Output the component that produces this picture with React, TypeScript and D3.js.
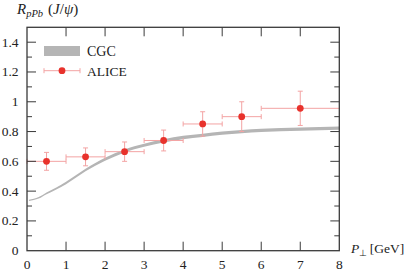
import React from "react";
import * as d3 from "d3";

const W = 409;
const H = 272;

// CGC band (central curve and half-width)
const cgcX = [0.05, 0.3, 0.5, 0.75, 1.0, 1.25, 1.5, 1.75, 2.0, 2.5, 3.0, 3.5, 4.0, 4.5, 5.0, 5.5, 6.0, 7.0, 8.0];
const cgcY = [0.338, 0.355, 0.385, 0.418, 0.455, 0.498, 0.542, 0.58, 0.614, 0.67, 0.708, 0.737, 0.76, 0.775, 0.789, 0.8, 0.808, 0.817, 0.823];
const cgcHalf = [0.004, 0.005, 0.006, 0.007, 0.008, 0.008, 0.009, 0.009, 0.01, 0.01, 0.01, 0.011, 0.011, 0.011, 0.011, 0.011, 0.011, 0.011, 0.011];

// ALICE data
const aliceX = [0.5, 1.5, 2.5, 3.5, 4.5, 5.5, 7.0];
const aliceXErr = [0.5, 0.5, 0.5, 0.5, 0.5, 0.5, 1.0];
const aliceY = [0.6, 0.63, 0.665, 0.74, 0.851, 0.9, 0.956];
const aliceYErr = [0.06, 0.06, 0.065, 0.07, 0.082, 0.1, 0.115];

const xTicks = [0, 1, 2, 3, 4, 5, 6, 7, 8];
const yTicks = [0, 0.2, 0.4, 0.6, 0.8, 1, 1.2, 1.4];
const yMinor = [0.1, 0.3, 0.5, 0.7, 0.9, 1.1, 1.3];

const FONT = "Liberation Serif";
const FRAME = "#3a3a3a";
const RED = "#e8322c";
const ERR = "#f3a3a3";
const BAND = "#b5b5b5";
const FS = 13.5;

export default function App() {
  const left = 27, right = 339.3, top = 27.3, bottom = 250.7;
  const x = d3.scaleLinear().domain([0, 8]).range([left, right]);
  const y = d3.scaleLinear().domain([0, 1.5]).range([bottom, top]);

  const band = cgcX.map((v, i) => ({ x: v, lo: cgcY[i] - cgcHalf[i], hi: cgcY[i] + cgcHalf[i] }));
  const area = d3
    .area<any>()
    .x((d) => x(d.x))
    .y0((d) => y(d.lo))
    .y1((d) => y(d.hi))
    .curve(d3.curveMonotoneX);

  const pts = aliceX.map((v, i) => ({ x: v, xe: aliceXErr[i], y: aliceY[i], ye: aliceYErr[i] }));
  const cap = 2.5;
  const major = 9;
  const minor = 5;

  return (
    <svg width={W} height={H} style={{ position: "absolute", left: 0, top: 0, background: "#fff" }}>
      {/* CGC band */}
      <path d={area(band) || ""} fill={BAND} />

      {/* ALICE error bars */}
      {pts.map((p, i) => (
        <g key={i} stroke={ERR} strokeWidth={1}>
          <line x1={x(p.x - p.xe)} x2={Math.min(x(p.x + p.xe), right)} y1={y(p.y)} y2={y(p.y)} />
          <line x1={x(p.x)} x2={x(p.x)} y1={y(p.y - p.ye)} y2={y(p.y + p.ye)} />
          <line x1={x(p.x) - cap} x2={x(p.x) + cap} y1={y(p.y - p.ye)} y2={y(p.y - p.ye)} />
          <line x1={x(p.x) - cap} x2={x(p.x) + cap} y1={y(p.y + p.ye)} y2={y(p.y + p.ye)} />
          <line x1={x(p.x - p.xe)} x2={x(p.x - p.xe)} y1={y(p.y) - cap} y2={y(p.y) + cap} />
          {x(p.x + p.xe) < right - 0.5 && (
            <line x1={x(p.x + p.xe)} x2={x(p.x + p.xe)} y1={y(p.y) - cap} y2={y(p.y) + cap} />
          )}
        </g>
      ))}
      {pts.map((p, i) => (
        <circle key={"c" + i} cx={x(p.x)} cy={y(p.y)} r={3.4} fill={RED} />
      ))}

      {/* Frame */}
      <rect x={left} y={top} width={right - left} height={bottom - top} fill="none" stroke={FRAME} strokeWidth={1.3} />

      {/* X ticks (bottom & top) */}
      {xTicks.slice(1, -1).map((t) => (
        <g key={"xt" + t} stroke={FRAME} strokeWidth={1}>
          <line x1={x(t)} x2={x(t)} y1={bottom} y2={bottom - major} />
          <line x1={x(t)} x2={x(t)} y1={top} y2={top + major} />
        </g>
      ))}
      {/* Y ticks (left & right) */}
      {yTicks.slice(1).map((t) => (
        <g key={"yt" + t} stroke={FRAME} strokeWidth={1}>
          <line x1={left} x2={left + major} y1={y(t)} y2={y(t)} />
          <line x1={right} x2={right - major} y1={y(t)} y2={y(t)} />
        </g>
      ))}
      {yMinor.map((t) => (
        <g key={"ym" + t} stroke={FRAME} strokeWidth={1}>
          <line x1={left} x2={left + minor} y1={y(t)} y2={y(t)} />
          <line x1={right} x2={right - minor} y1={y(t)} y2={y(t)} />
        </g>
      ))}

      {/* Tick labels */}
      {xTicks.map((t) => (
        <text key={"xl" + t} x={x(t)} y={268.5} textAnchor="middle" fontFamily={FONT} fontSize={FS} fill="#222">
          {t}
        </text>
      ))}
      {yTicks.map((t) => (
        <text key={"yl" + t} x={18.5} y={y(t) + 4.5} textAnchor="end" fontFamily={FONT} fontSize={FS} fill="#222">
          {d3.format("~g")(t)}
        </text>
      ))}

      {/* Axis titles */}
      <text x={17} y={13.5} fontFamily={FONT} fontSize={15} fill="#222">
        <tspan fontStyle="italic">R</tspan>
        <tspan fontStyle="italic" fontSize={10.5} dy={3}>pPb</tspan>
        <tspan dy={-3} dx={5}>(</tspan>
        <tspan fontStyle="italic">J</tspan>
        <tspan>/</tspan>
        <tspan fontStyle="italic">ψ</tspan>
        <tspan>)</tspan>
      </text>
      <text x={351} y={253} fontFamily={FONT} fontSize={13.5} fill="#222">
        <tspan fontStyle="italic">P</tspan>
        <tspan fontSize={9} dy={3}>⊥</tspan>
        <tspan dy={-3} dx={2.5}>[GeV]</tspan>
      </text>

      {/* Legend */}
      <rect x={44} y={46} width={36} height={10} fill={BAND} />
      <text x={87} y={55.5} fontFamily={FONT} fontSize={14} fill="#222">CGC</text>
      <g stroke={ERR} strokeWidth={1}>
        <line x1={44} x2={80} y1={70.7} y2={70.7} />
        <line x1={44} x2={44} y1={70.7 - cap} y2={70.7 + cap} />
        <line x1={80} x2={80} y1={70.7 - cap} y2={70.7 + cap} />
      </g>
      <circle cx={62} cy={70.7} r={3.4} fill={RED} />
      <text x={87} y={75.5} fontFamily={FONT} fontSize={FS} fill="#222">ALICE</text>
    </svg>
  );
}
